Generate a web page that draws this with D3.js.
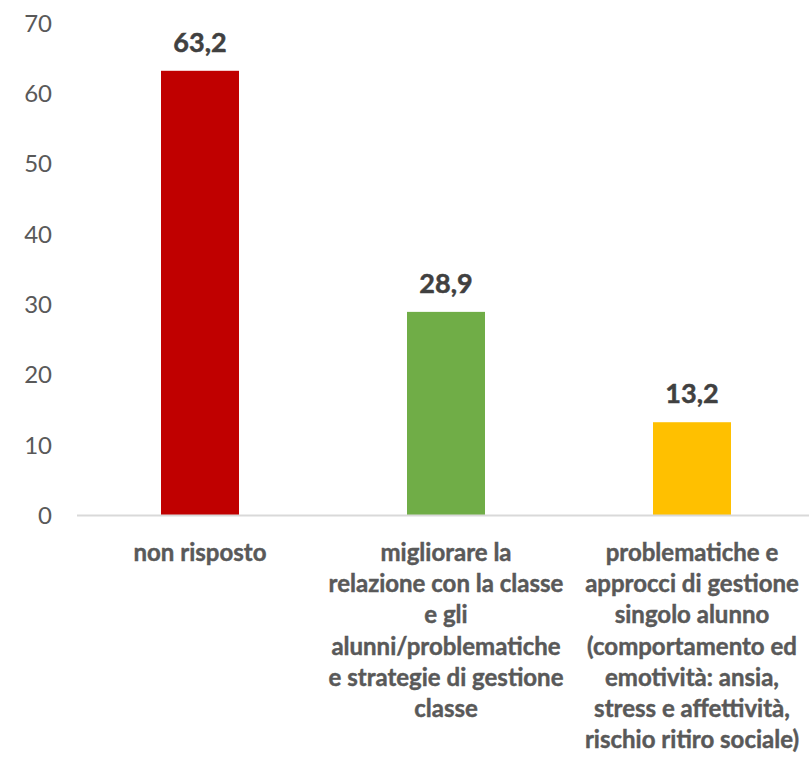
<!DOCTYPE html>
<html>
<head>
<meta charset="utf-8">
<script src="https://cdn.jsdelivr.net/npm/d3@7"></script>
<style>
  html, body { margin: 0; padding: 0; background: #fff; }
  svg { display: block; }
</style>
</head>
<body>
<svg id="chart" width="809" height="758"></svg>
<script>
const categories = [
  "non risposto",
  "migliorare la\nrelazione con la classe\ne gli\nalunni/problematiche\ne strategie di gestione\nclasse",
  "problematiche e\napprocci di gestione\nsingolo alunno\n(comportamento ed\nemotività: ansia,\nstress e affettività,\nrischio ritiro sociale)"
];
const values = [63.2, 28.9, 13.2];
const valueLabels = ["63,2", "28,9", "13,2"];
const colors = ["#C00000", "#70AD47", "#FFC000"];
const yTicks = [0, 10, 20, 30, 40, 50, 60, 70];

const svg = d3.select("#chart");
const font = "Lato, 'Open Sans', sans-serif";

const x = d3.scaleBand()
  .domain(categories)
  .range([77, 815])
  .paddingInner(0.683)
  .paddingOuter(0.3415);

const y = d3.scaleLinear().domain([0, 70]).range([515, 23]);

// y axis labels (no line)
const yAxis = d3.axisLeft(y).tickValues(yTicks).tickSize(0).tickPadding(0).tickFormat(d3.format("d"));
const yg = svg.append("g").attr("transform", "translate(52,0)").call(yAxis);
yg.select(".domain").remove();
yg.selectAll("text")
  .attr("font-family", font)
  .attr("font-size", "24px")
  .attr("fill", "#595959")
  .attr("dy", "0.35em");

// bars
svg.append("g").selectAll("rect")
  .data(values)
  .join("rect")
  .attr("x", (d, i) => x(categories[i]))
  .attr("width", x.bandwidth())
  .attr("y", d => y(d))
  .attr("height", d => y(0) - y(d))
  .attr("fill", (d, i) => colors[i]);

// baseline
svg.append("line")
  .attr("x1", 77).attr("x2", 809)
  .attr("y1", y(0) + 0.5).attr("y2", y(0) + 0.5)
  .attr("stroke", "#D9D9D9").attr("stroke-width", 2);

// value labels
svg.append("g").selectAll("text")
  .data(values)
  .join("text")
  .attr("x", (d, i) => x(categories[i]) + x.bandwidth() / 2)
  .attr("y", d => y(d) - 19)
  .attr("text-anchor", "middle")
  .attr("font-family", font)
  .attr("font-weight", "bold")
  .attr("font-size", "27px")
  .attr("fill", "#404040")
  .attr("stroke", "#404040")
  .attr("stroke-width", 0.5)
  .text((d, i) => valueLabels[i]);

// category labels
const cg = svg.append("g");
categories.forEach((c, i) => {
  const t = cg.append("text")
    .attr("text-anchor", "middle")
    .attr("font-family", font)
    .attr("font-weight", "bold")
    .attr("font-size", "24px")
    .attr("fill", "#595959")
    .attr("stroke", "#595959")
    .attr("stroke-width", 0.45);
  c.split("\n").forEach((line, j) => {
    t.append("tspan")
      .attr("x", x(c) + x.bandwidth() / 2)
      .attr("y", 561 + j * 31.2)
      .text(line);
  });
});
</script>
</body>
</html>
